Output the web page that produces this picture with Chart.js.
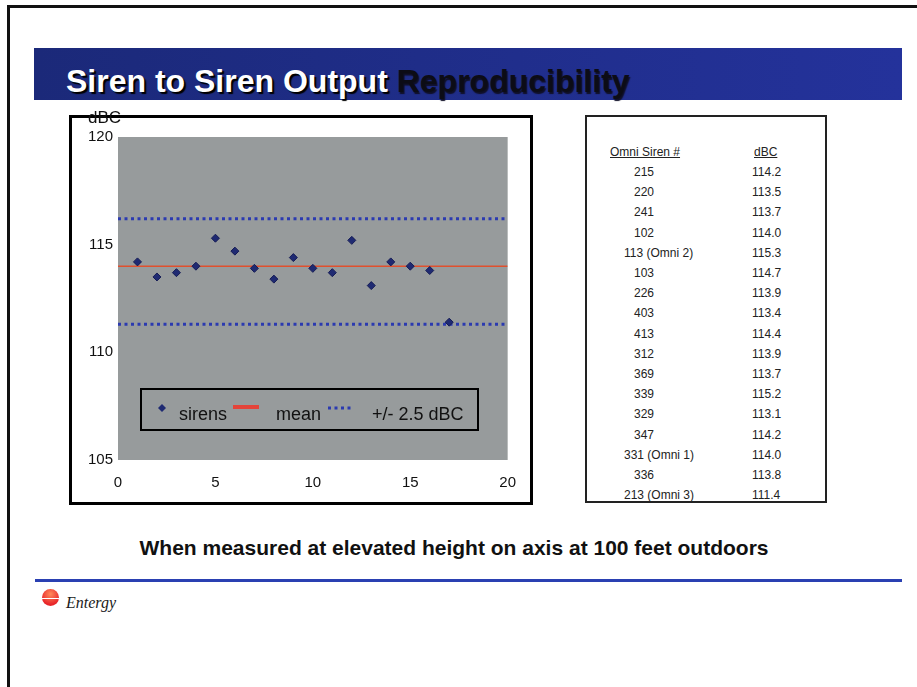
<!doctype html>
<html>

<head>
	<title>Siren to Siren Output Reproducibility</title>
	<script src="https://cdn.jsdelivr.net/npm/chart.js@4/dist/chart.umd.min.js"></script>
	<style>
		body { margin: 0; background: #fff; font-family: 'Liberation Sans', Arial, Helvetica, sans-serif; }
		#slide { position: relative; width: 917px; height: 687px; overflow: hidden; }
		.abs { position: absolute; }
		#frame { left: 7px; top: 5px; width: 940px; height: 720px; border-left: 3px solid #111; border-top: 3px solid #111; }
		#titlebar { left: 34px; top: 48px; width: 868px; height: 52px; background: linear-gradient(to right, #1b2979, #24329b); }
		#title { left: 66px; top: 65px; font-size: 32px; line-height: 32px; font-weight: bold; white-space: nowrap; }
		#title .w { color: #fff; text-shadow: 2px 2px 1px #000; }
		#title .k { color: #0c0c16; text-shadow: 1px 2px 1px #101028; }
		#chartbox { left: 69px; top: 115px; width: 464px; height: 390px; border: 3px solid #000; box-sizing: border-box; background: #fff; }
		#chartbox canvas { position: absolute; left: 0; top: 0; }
		#ylabel { left: 88px; top: 109px; font-size: 17px; line-height: 17px; color: #111; }
		#tablebox { left: 585px; top: 115px; width: 242px; height: 388px; border: 2px solid #222; box-sizing: border-box; }
		.cell { font-size: 12px; line-height: 20px; color: #222; white-space: nowrap; }
		.hdr { text-decoration: underline; }
		#caption { left: 0; top: 536px; width: 908px; text-align: center; font-size: 21px; line-height: 24px; font-weight: bold; color: #111; }
		#rule { left: 35px; top: 579px; width: 867px; height: 3px; background: #2a40b2; }
		#sun { left: 42px; top: 589px; width: 17px; height: 17px; border-radius: 50%;
			background: repeating-linear-gradient(to bottom, transparent 0 9px, #fff 9px 10px, transparent 10px 12px),
				radial-gradient(circle at 50% 30%, #ff8a5a, #e8262a 70%); }
		#logo { left: 66px; top: 594px; font-family: 'Liberation Serif', 'Times New Roman', serif; font-style: italic; font-size: 16px; line-height: 18px; color: #1a1a1a; }
	</style>
</head>

<body>
	<div id="slide">
		<div id="frame" class="abs"></div>
		<div id="titlebar" class="abs"></div>
		<div id="title" class="abs"><span class="w">Siren to Siren Output</span> <span class="k">Reproducibility</span></div>

		<div id="chartbox" class="abs">
			<canvas id="chart-area" width="458" height="384"></canvas>
		</div>
		<div id="ylabel" class="abs">dBC</div>

		<div id="tablebox" class="abs"></div>
		<div id="table"></div>

		<div id="caption" class="abs">When measured at elevated height on axis at 100 feet outdoors</div>
		<div id="rule" class="abs"></div>
		<div id="sun" class="abs"></div>
		<div id="logo" class="abs">Entergy</div>
	</div>

	<script>
		// data
		const sirenIds = ['215', '220', '241', '102', '113 (Omni 2)', '103', '226', '403', '413',
			'312', '369', '339', '329', '347', '331 (Omni 1)', '336', '213 (Omni 3)'];
		const sirenNo = [1, 2, 3, 4, 5, 6, 7, 8, 9, 10, 11, 12, 13, 14, 15, 16, 17];
		const sirenDbc = [114.2, 113.5, 113.7, 114.0, 115.3, 114.7, 113.9, 113.4, 114.4,
			113.9, 113.7, 115.2, 113.1, 114.2, 114.0, 113.8, 111.4];
		const meanDbc = 114.0;
		const upperDbc = 116.2;
		const lowerDbc = 111.3;
		const xTicks = [0, 5, 10, 15, 20];
		const yTicks = [105, 110, 115, 120];
		const seriesNames = ['sirens', 'mean', '+/- 2.5 dBC'];

		// table on the right
		const table = document.getElementById('table');
		function addCell(text, left, top, cls) {
			const d = document.createElement('div');
			d.className = 'abs cell ' + (cls || '');
			d.style.left = left + 'px';
			d.style.top = top + 'px';
			d.textContent = text;
			table.appendChild(d);
		}
		addCell('Omni Siren #', 610, 142, 'hdr');
		addCell('dBC', 754, 142, 'hdr');
		sirenIds.forEach((id, i) => {
			const top = 162 + i * 20.2;
			addCell(id, id.length > 3 ? 624 : 634, top);
			addCell(sirenDbc[i].toFixed(1), 752, top);
		});

		const xMin = xTicks[0], xMax = xTicks[xTicks.length - 1];
		const font = { family: "'Liberation Sans', Arial, Helvetica", size: 15 };
		const navy = '#1f2a72';
		const red = '#e0502e';
		const blue = '#2b3ab0';

		const plotBg = {
			id: 'plotBg',
			beforeDraw(chart) {
				const { ctx, chartArea: a } = chart;
				ctx.save();
				ctx.fillStyle = '#979b9c';
				ctx.fillRect(a.left, a.top, a.right - a.left, a.bottom - a.top);
				ctx.restore();
			}
		};

		// boxed legend sitting inside the plot
		const boxLegend = {
			id: 'boxLegend',
			afterDatasetsDraw(chart) {
				const { ctx, chartArea: a } = chart;
				const L = a.left + 23, T = a.top + 252;
				ctx.save();
				ctx.strokeStyle = '#000';
				ctx.lineWidth = 2;
				ctx.strokeRect(L, T, 337, 41);
				// diamond
				ctx.fillStyle = navy;
				ctx.beginPath();
				ctx.moveTo(L + 21, T + 15); ctx.lineTo(L + 25, T + 19);
				ctx.lineTo(L + 21, T + 23); ctx.lineTo(L + 17, T + 19);
				ctx.closePath(); ctx.fill();
				// red line
				ctx.strokeStyle = '#e4443a';
				ctx.lineWidth = 4;
				ctx.beginPath(); ctx.moveTo(L + 92, T + 18); ctx.lineTo(L + 118, T + 18); ctx.stroke();
				// dotted
				ctx.strokeStyle = blue;
				ctx.lineWidth = 3;
				ctx.setLineDash([3, 3.5]);
				ctx.beginPath(); ctx.moveTo(L + 187, T + 19); ctx.lineTo(L + 212, T + 19); ctx.stroke();
				ctx.setLineDash([]);
				ctx.fillStyle = '#111';
				ctx.font = "18px 'Liberation Sans', Arial";
				ctx.textBaseline = 'alphabetic';
				ctx.fillText(seriesNames[0], L + 38, T + 31);
				ctx.fillText(seriesNames[1], L + 135, T + 31);
				ctx.fillText(seriesNames[2], L + 231, T + 31);
				ctx.restore();
			}
		};

		const hLine = (y) => [{ x: xMin, y: y }, { x: xMax, y: y }];

		const ctx2d = document.getElementById('chart-area').getContext('2d');
		window.sirenChart = new Chart(ctx2d, {
			type: 'scatter',
			data: {
				datasets: [{
					label: seriesNames[0],
					data: sirenNo.map((n, i) => ({ x: n, y: sirenDbc[i] })),
					pointStyle: 'rectRot',
					pointRadius: 4,
					backgroundColor: navy,
					borderColor: '#151c55',
					borderWidth: 1
				}, {
					label: seriesNames[1],
					data: hLine(meanDbc),
					showLine: true,
					borderColor: red,
					borderWidth: 1.5,
					pointRadius: 0
				}, {
					label: seriesNames[2],
					data: hLine(upperDbc),
					showLine: true,
					borderColor: blue,
					borderWidth: 3,
					borderDash: [3, 3.5],
					pointRadius: 0
				}, {
					label: seriesNames[2],
					data: hLine(lowerDbc),
					showLine: true,
					borderColor: blue,
					borderWidth: 3,
					borderDash: [3, 3.5],
					pointRadius: 0
				}]
			},
			options: {
				responsive: false,
				animation: false,
				layout: { padding: { top: 19, right: 22, left: 0, bottom: 0 } },
				scales: {
					x: {
						type: 'linear',
						min: xMin,
						max: xMax,
						afterBuildTicks(s) { s.ticks = xTicks.map(v => ({ value: v })); },
						afterFit(s) { s.height = 42; },
						grid: { display: false, drawTicks: false },
						border: { display: false },
						ticks: { font: font, color: '#111', padding: 14, maxRotation: 0 }
					},
					y: {
						min: yTicks[0],
						max: yTicks[yTicks.length - 1],
						afterBuildTicks(s) { s.ticks = yTicks.map(v => ({ value: v })); },
						afterFit(s) { s.width = 46; },
						grid: { display: false, drawTicks: false },
						border: { display: false },
						ticks: { font: font, color: '#111', padding: 5 }
					}
				},
				plugins: {
					legend: { display: false },
					tooltip: { enabled: false }
				}
			},
			plugins: [plotBg, boxLegend]
		});
	</script>
</body>

</html>
